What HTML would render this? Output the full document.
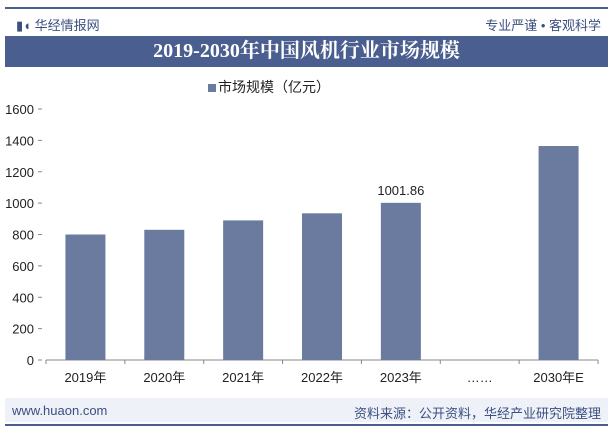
<!DOCTYPE html>
<html><head><meta charset="utf-8"><style>
body{margin:0;width:613px;height:429px;background:#fff;overflow:hidden;font-family:"Liberation Sans","Noto Sans CJK SC",sans-serif;position:relative}
.a{position:absolute}
</style></head><body>
<div class="a" style="left:5px;top:7px;width:603px;height:2px;background:#4a5f8f"></div>
<div class="a" style="left:16px;top:15px;font-size:13px;color:#3b4f80">▮◖ 华经情报网</div>
<div class="a" style="right:12px;top:15px;font-size:13px;color:#3b4f80">专业严谨 • 客观科学</div>
<div class="a" style="left:5px;top:36px;width:603px;height:31px;background:#4a5f8f;color:#fff;font-family:'Liberation Serif','Noto Serif CJK SC',serif;font-weight:bold;font-size:20px;line-height:31px;text-align:center">2019-2030年中国风机行业市场规模</div>
<div class="a" style="left:208px;top:77px;font-size:14px;color:#222"><span style="display:inline-block;width:8px;height:8px;background:#6b7ba0;margin-right:2px"></span>市场规模（亿元）</div>
<svg class="a" style="left:0;top:0" width="613" height="429" id="c"></svg>
<div class="a" style="left:5px;top:398px;width:603px;height:24px;background:#eef2f8"></div>
<div class="a" style="left:12px;top:403px;font-size:13px;color:#3b4f80">www.huaon.com</div>
<div class="a" style="right:12px;top:403px;font-size:13px;color:#3b4f80">资料来源：公开资料，华经产业研究院整理</div>
<div class="a" style="left:5px;top:424px;width:603px;height:2px;background:#4a5f8f"></div>
<script>
const categories=["2019年","2020年","2021年","2022年","2023年","……","2030年E"];
const values=[800,830,890,935,1001.86,null,1364];
const labels=[null,null,null,null,"1001.86",null,null];
const ticks=[0,200,400,600,800,1000,1200,1400,1600];
const svg=document.getElementById('c');const NS='http://www.w3.org/2000/svg';
const x0=46,x1=598,y0=360,y1=109;
const step=(x1-x0)/categories.length;
const y=v=>y0-(v/1600)*(y0-y1);
const xc=i=>x0+step*(i+0.5);
function el(t,a,txt){const e=document.createElementNS(NS,t);for(const k in a)e.setAttribute(k,a[k]);if(txt!=null)e.textContent=txt;svg.appendChild(e);return e;}
const ax=el('line',{x1:x0,y1:y0,x2:x1,y2:y0,stroke:'#888'});


ticks.forEach(t=>{
 const tl=el('text',{x:34,y:y(t)+5,'text-anchor':'end','font-size':13,fill:'#222','font-family':'Liberation Sans'},String(t));
 
 
 el('line',{x1:38,y1:y(t),x2:42,y2:y(t),stroke:'#888'});
});
for(let i=0;i<=categories.length;i++)el('line',{x1:x0+step*i,y1:y0,x2:x0+step*i,y2:y0+4,stroke:'#888'});
categories.forEach((c,i)=>{
 const t=el('text',{x:xc(i),y:382,'text-anchor':'middle','font-size':13,fill:'#222','font-family':'Liberation Sans, Noto Sans CJK SC'},c);
 
 
 if(values[i]!=null){
  const b=el('rect',{x:xc(i)-20,y:y(values[i]),width:40,height:y0-y(values[i]),fill:'#6b7ba0'});
  
  
 }
 if(labels[i]){
  const l=el('text',{x:xc(i),y:y(values[i])-8,'text-anchor':'middle','font-size':13,fill:'#222','font-family':'Liberation Sans'},labels[i]);
  
  
 }
});
</script>
</body></html>
